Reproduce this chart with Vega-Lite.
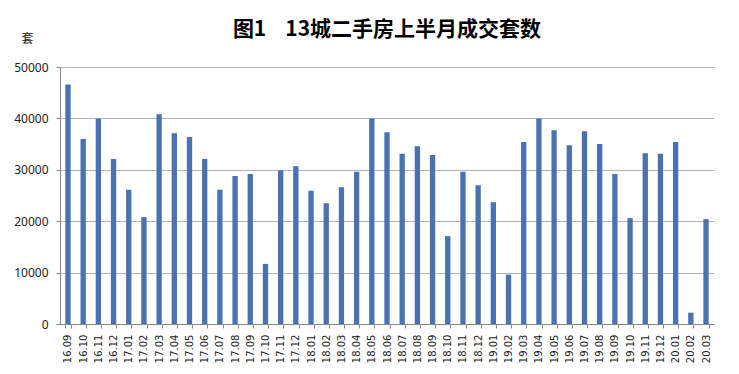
{
  "$schema": "https://vega.github.io/schema/vega-lite/v6.json",
  "width": 654,
  "height": 257,
  "autosize": {"type": "none"},
  "padding": {"left": 60, "top": 67, "right": 25, "bottom": 50},
  "background": "white",
  "title": {
    "text": "图1\u00a0\u00a0\u00a0\u00a013城二手房上半月成交套数",
    "font": "Noto Sans CJK SC",
    "fontSize": 21,
    "fontWeight": "bold",
    "color": "#000000",
    "anchor": "middle",
    "baseline": "bottom",
    "offset": -4,
    "dy": 25
  },
  "data": {
    "values": [
      {"m": "16.09", "v": 46600},
      {"m": "16.10", "v": 36000},
      {"m": "16.11", "v": 40000},
      {"m": "16.12", "v": 32100},
      {"m": "17.01", "v": 26100},
      {"m": "17.02", "v": 20800},
      {"m": "17.03", "v": 40800},
      {"m": "17.04", "v": 37100},
      {"m": "17.05", "v": 36400},
      {"m": "17.06", "v": 32100},
      {"m": "17.07", "v": 26100},
      {"m": "17.08", "v": 28800},
      {"m": "17.09", "v": 29200},
      {"m": "17.10", "v": 11700},
      {"m": "17.11", "v": 29900},
      {"m": "17.12", "v": 30700},
      {"m": "18.01", "v": 25900},
      {"m": "18.02", "v": 23500},
      {"m": "18.03", "v": 26600},
      {"m": "18.04", "v": 29600},
      {"m": "18.05", "v": 40000},
      {"m": "18.06", "v": 37300},
      {"m": "18.07", "v": 33100},
      {"m": "18.08", "v": 34600},
      {"m": "18.09", "v": 32900},
      {"m": "18.10", "v": 17100},
      {"m": "18.11", "v": 29600},
      {"m": "18.12", "v": 27000},
      {"m": "19.01", "v": 23700},
      {"m": "19.02", "v": 9600},
      {"m": "19.03", "v": 35400},
      {"m": "19.04", "v": 40000},
      {"m": "19.05", "v": 37700},
      {"m": "19.06", "v": 34800},
      {"m": "19.07", "v": 37500},
      {"m": "19.08", "v": 35000},
      {"m": "19.09", "v": 29200},
      {"m": "19.10", "v": 20600},
      {"m": "19.11", "v": 33200},
      {"m": "19.12", "v": 33100},
      {"m": "20.01", "v": 35400},
      {"m": "20.02", "v": 2200},
      {"m": "20.03", "v": 20400}
    ]
  },
  "mark": {"type": "bar", "color": "#4a72b0"},
  "encoding": {
    "x": {
      "field": "m",
      "type": "ordinal",
      "sort": null,
      "scale": {"paddingInner": 0.65, "paddingOuter": 0.35},
      "axis": {
        "title": null,
        "labelAngle": -90,
        "labelAlign": "right",
        "labelBaseline": "middle",
        "labelFont": "DejaVu Sans",
        "labelFontSize": 10,
        "labelColor": "#222222",
        "labelPadding": 6,
        "tickBand": "extent",
        "tickColor": "#888888",
        "tickSize": 4,
        "domainColor": "#888888",
        "grid": false
      }
    },
    "y": {
      "field": "v",
      "type": "quantitative",
      "scale": {"domain": [0, 50000], "nice": false},
      "axis": {
        "values": [0, 10000, 20000, 30000, 40000, 50000],
        "format": "d",
        "title": "套",
        "titleAngle": 0,
        "titleX": -33,
        "titleY": -29,
        "titleAlign": "center",
        "titleBaseline": "middle",
        "titleFont": "Noto Sans CJK SC",
        "titleFontSize": 12,
        "titleFontWeight": "normal",
        "titleColor": "#222222",
        "labelFont": "Noto Sans",
        "labelFontSize": 12,
        "labelColor": "#222222",
        "labelPadding": 8,
        "tickColor": "#888888",
        "tickSize": 4,
        "domainColor": "#888888",
        "gridColor": "#b4b4b4",
        "gridWidth": 1
      }
    }
  },
  "config": {"view": {"stroke": null}}
}
